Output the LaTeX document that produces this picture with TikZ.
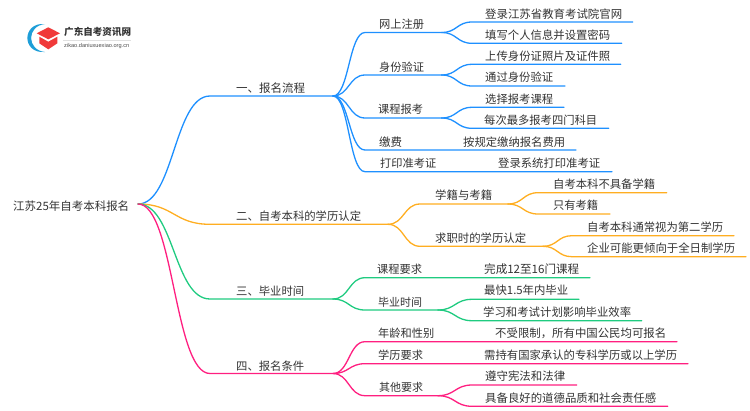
\documentclass[tikz,border=0pt]{standalone}
\usepackage{fontspec}
\setmainfont{Noto Sans CJK SC}
\newfontfamily\latinsmall{Liberation Sans}
\usetikzlibrary{calc}
\definecolor{cblue}{HTML}{1E90FF}
\definecolor{corange}{HTML}{FFAE21}
\definecolor{cgreen}{HTML}{1FCB80}
\definecolor{cpink}{HTML}{FF1F80}
\definecolor{ctext}{HTML}{333333}
\definecolor{logored}{HTML}{F03A3A}
\definecolor{logoblue}{HTML}{1E9ED8}
\tikzset{
  label/.style={anchor=west,inner sep=0pt,text=ctext,font=\fontsize{11.4pt}{12pt}\selectfont},
  conn/.style={line width=1.3pt,line cap=round,line join=round},
}
% \lab{name}{left x}{centre y}{width}{text}: a text scaled to its printed width
\newcommand{\lab}[5]{\node[label] (#1) at (#2,#3) {\resizebox{#4pt}{!}{#5}};}
% \link{colour}{from}{bend end}{line end}
\newcommand{\link}[4]{%
  \path (#2) -- (#3) coordinate[midway] (mm);
  \draw[conn,#1] (#2) .. controls (mm|-#2) and (mm|-#3) .. (#3) -- (#4);}
\begin{document}
\begin{tikzpicture}[x=1pt,y=-1pt]
\useasboundingbox (0,0) rectangle (750,410);
% logo
\fill[logoblue] (45,24) .. controls (21.5,22) and (21.5,54) .. (45,52) .. controls (26.5,50) and (26.5,26) .. (45,24) -- cycle;
\fill[logored] (36.7,33.3) -- (48.3,27.3) -- (60,33.3) -- (48.3,39.3) -- cycle;
\fill[logored] (39.3,36.7) -- (48.3,41.7) -- (57.3,36.7) -- (57.3,43.3) -- (48.3,49.3) -- (39.3,43.3) -- cycle;
\node[anchor=west,inner sep=0pt,text=black!80] (logotitle) at (64,31.7) {\resizebox{67pt}{!}{\bfseries 广东自考资讯网}};
\draw[black!12,line width=.5pt] (63,40.5) -- (131,40.5);
\node[anchor=west,inner sep=0pt,text=black!70] (logourl) at (64,46.3) {\resizebox{65pt}{!}{\latinsmall zikao.daniuxuexiao.org.cn}};
% junction and line-end coordinates
\coordinate (root) at (138,204);
\foreach \n/\a/\b/\y in {
 A/210/333/96, B/210/388/224.3, C/210/333/299, D/210/333/373.5,
 A1/365/441.7/32.5, A2/365/441.7/75, A3/365/441.7/118, A4/365/576/150, A5/365/612/171.7,
 A11/472/632.7/22, A12/472/621.7/43.3, A21/472/620.7/64.3, A22/472/565/86, A31/472/564/107.3, A32/472/608.7/128.3,
 B1/420/508/204, B2/420/543/246.3, B11/538/666.7/192.7, B12/538/610/214, B21/572/734/235.7, B22/572/746/256.7,
 C1/365/590/277.7, C2/365/438/310, C21/472/579/299.3, C22/472/641.7/320.7,
 D1/365/677/341.7, D2/365/688/363.7, D3/365/438/395.7, D31/472/576.7/385, D32/472/667.7/406.3}{
  \coordinate (\n s) at (\a,\y);
  \coordinate (\n e) at (\b,\y);
}
% connectors
\link{cblue}{root}{As}{Ae}
\link{corange}{root}{Bs}{Be}
\link{cgreen}{root}{Cs}{Ce}
\link{cpink}{root}{Ds}{De}
\foreach \n in {A1,A2,A3,A4,A5}{\link{cblue}{Ae}{\n s}{\n e}}
\link{cblue}{A1e}{A11s}{A11e}
\link{cblue}{A1e}{A12s}{A12e}
\link{cblue}{A2e}{A21s}{A21e}
\link{cblue}{A2e}{A22s}{A22e}
\link{cblue}{A3e}{A31s}{A31e}
\link{cblue}{A3e}{A32s}{A32e}
\link{corange}{Be}{B1s}{B1e}
\link{corange}{Be}{B2s}{B2e}
\link{corange}{B1e}{B11s}{B11e}
\link{corange}{B1e}{B12s}{B12e}
\link{corange}{B2e}{B21s}{B21e}
\link{corange}{B2e}{B22s}{B22e}
\link{cgreen}{Ce}{C1s}{C1e}
\link{cgreen}{Ce}{C2s}{C2e}
\link{cgreen}{C2e}{C21s}{C21e}
\link{cgreen}{C2e}{C22s}{C22e}
\link{cpink}{De}{D1s}{D1e}
\link{cpink}{De}{D2s}{D2e}
\link{cpink}{De}{D3s}{D3e}
\link{cpink}{D3e}{D31s}{D31e}
\link{cpink}{D3e}{D32s}{D32e}
% labels
\lab{troot}{13}{206}{116}{江苏25年自考本科报名}
\lab{tA}{236}{88}{69}{一、报名流程}
\lab{tB}{236}{216}{125}{二、自考本科的学历认定}
\lab{tC}{236}{291}{68}{三、毕业时间}
\lab{tD}{236}{366}{68}{四、报名条件}
\lab{tA1}{379}{24}{45}{网上注册}
\lab{tA2}{379}{67}{45}{身份验证}
\lab{tA3}{378}{109}{45}{课程报考}
\lab{tA4}{379}{142}{23}{缴费}
\lab{tA5}{380}{163}{56}{打印准考证}
\lab{tA11}{485}{14}{137}{登录江苏省教育考试院官网}
\lab{tA12}{485}{35}{125}{填写个人信息并设置密码}
\lab{tA21}{485}{56}{125}{上传身份证照片及证件照}
\lab{tA22}{485}{77}{68}{通过身份验证}
\lab{tA31}{485}{99}{68}{选择报考课程}
\lab{tA32}{484}{120}{113}{每次最多报考四门科目}
\lab{tA41}{463}{142}{102}{按规定缴纳报名费用}
\lab{tA51}{498}{163}{102}{登录系统打印准考证}
\lab{tB1}{435}{195}{57}{学籍与考籍}
\lab{tB2}{435}{238}{91}{求职时的学历认定}
\lab{tB11}{553}{184}{102}{自考本科不具备学籍}
\lab{tB12}{553}{205}{45}{只有考籍}
\lab{tB21}{587}{227}{136}{自考本科通常视为第二学历}
\lab{tB22}{587}{248}{148}{企业可能更倾向于全日制学历}
\lab{tC1}{377}{269}{45}{课程要求}
\lab{tC11}{484}{269}{95}{完成12至16门课程}
\lab{tC2}{378}{302}{44}{毕业时间}
\lab{tC21}{484}{290}{84}{最快1.5年内毕业}
\lab{tC22}{483}{312}{148}{学习和考试计划影响毕业效率}
\lab{tD1}{378}{333}{56}{年龄和性别}
\lab{tD11}{495}{333}{171}{不受限制，所有中国公民均可报名}
\lab{tD2}{378}{355}{45}{学历要求}
\lab{tD21}{484}{355}{193}{需持有国家承认的专科学历或以上学历}
\lab{tD3}{379}{387}{44}{其他要求}
\lab{tD31}{485}{376}{80}{遵守宪法和法律}
\lab{tD32}{485}{398}{171}{具备良好的道德品质和社会责任感}
\end{tikzpicture}
\end{document}
